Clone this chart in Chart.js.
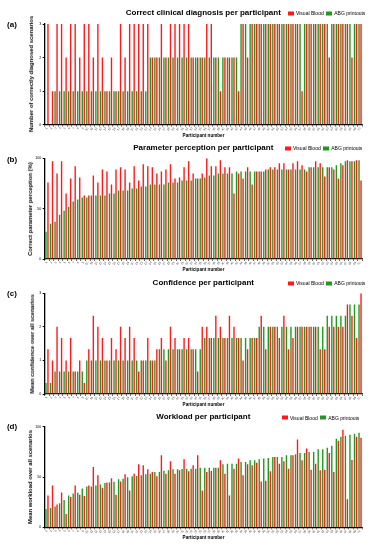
<!DOCTYPE html>
<html><head><meta charset="utf-8">
<script src="https://cdn.jsdelivr.net/npm/chart.js@4.4.1/dist/chart.umd.min.js"></script>
<style>
html,body{margin:0;padding:0;background:#fff;}
#wrap{position:relative;width:371px;height:550px;overflow:hidden;font-family:"Liberation Sans",Arial,sans-serif;color:#000;}
canvas{position:absolute;left:0;}
.t{position:absolute;white-space:nowrap;line-height:1;transform:translate(-50%,-50%);}
.title{font-weight:bold;font-size:8px;}
.plab{font-weight:bold;font-size:8px;}
.ylab{font-weight:bold;font-size:5.9px;transform:translate(-50%,-50%) rotate(-90deg);}
.leg{position:absolute;font-size:5px;white-space:nowrap;display:flex;align-items:center;line-height:1;transform:translateY(-50%);}
.box{display:inline-block;width:6px;height:4px;margin-right:2px;}
</style></head>
<body><div id="wrap"></div>
<script>
const participants = ['1','2','3','4','5','6','7','8','9','10','11','12','13','14','15','16','17','18','19','20','21','22','23','24','25','26','27','28','29','30','31','32','33','34','35','36','37','38','39','40','41','42','43','44','45','46','47','48','49','50','51','52','53','54','55','56','57','58','59','60','61','62','63','64','65','66','67','68','69','70'];

// (a) correctly diagnosed scenarios
const abgA = [0,0,1,1,1,1,1,1,1,1,1,1,1,1,1,1,1,1,1,1,1,1,1,2,2,2,2,2,2,2,2,2,2,2,2,2,2,2,2,2,2,2,2,3,3,3,3,3,3,3,3,3,3,3,3,3,3,3,3,3,3,3,3,3,3,3,3,3,3,3];
const vbA  = [3,1,3,3,2,3,3,2,3,3,2,3,2,1,2,1,3,2,3,3,3,3,3,2,2,3,2,3,3,3,3,3,2,2,2,3,3,2,1,2,2,2,1,3,2,3,3,3,3,3,3,3,3,3,3,3,1,3,3,3,3,3,2,3,3,3,3,2,3,3];

// (b) correct parameter perception (%)
const abgB = [27,35,37,44,48,52,57,59,61,61,63,63,63,63,65,65,68,68,68,70,70,72,72,74,74,74,74,76,76,76,78,78,78,80,80,81,83,83,85,85,85,85,87,87,87,87,87,87,87,89,89,89,89,89,89,89,89,89,91,91,91,91,91,91,93,95,97,97,97,98];
const vbB  = [76,97,85,97,65,80,92,81,63,63,83,76,89,87,74,89,91,89,76,92,78,94,92,91,85,87,89,94,80,81,91,97,85,80,85,100,92,92,98,91,91,65,85,80,91,74,87,87,89,91,91,95,95,89,95,97,93,87,91,97,95,82,91,89,80,93,98,97,98,78];

// (c) mean confidence
const abgC = [0.33,0.33,0.67,0.67,0.67,0.67,0.67,0.67,0.67,1,1,1,1,1,1,1,1,1,1,1,1,1,1,1,1,1.33,1.33,1.33,1.33,1.33,1.33,1.33,1.33,1.33,1.33,1.67,1.67,1.67,1.67,1.67,1.67,1.67,1.67,1.67,1.67,1.67,1.67,2,2,2,2,2,2,2,2,2,2,2,2,2,2,2,2.33,2.33,2.33,2.33,2.33,2.67,2.67,2.67];
const vbC  = [1.33,1,2,1.67,1,1.67,0.67,1,0.33,1.33,2.33,2,1.67,1,1.67,1.33,2,1.67,2,1.67,0.67,1,1.67,1,1.33,1.67,1,2,1.67,1.33,1.67,1.67,1.33,0.67,2,2,1.67,2.33,2,1.67,2.33,2,1.67,1,1.33,1.67,1.67,2.33,1.33,2,2,1.67,2.33,1.33,1.67,2,2,2,2,2,1.33,1.33,2,2,2,2,2.67,2.33,1.67,3];

// (d) mean workload
const abgD = [18.3,19.3,20.7,24,27.3,31.7,33.7,34.3,38.7,40.7,40.7,41.7,42.7,44,44.7,45.3,47.7,48.3,49.7,50.7,51,51.7,52.7,53.3,55,55,56.3,56.7,57.7,57.7,58,58.3,58.3,58.3,59.3,59.3,59.3,59.3,59.3,62.7,63.3,63.3,63.3,65,65,66.7,66.7,67.7,68.3,69,70,70,70,71.7,71.7,72.7,74,74,75,75,77.7,77.7,79,81,88,90,91,92,93,94];
const vbD  = [31.7,41.7,22.7,34.7,13.3,30.3,41.7,32.3,31.3,41.7,60,51.7,39.3,44.7,48.7,32.3,45.7,52.7,36.7,53.3,62.7,61.7,57.7,55,50.7,71.7,53.3,65.7,53.3,56.7,67.7,55.7,61.7,71.7,36.7,55,56,59.3,66.7,53.3,31.7,58.3,68.3,51.7,62.7,61.7,64.3,45.7,46.3,55.7,70,63.3,65.7,58.3,71.7,87.3,66.7,78.3,57.3,63.3,56.7,57.3,74,55,86,97,28,67,90,89];

const RED = '#ff1a1a', GREEN = '#1f9a1f';
const FAM = "'Liberation Sans', Arial, sans-serif";
Chart.defaults.font.family = FAM;

const panels = [
  {key:'a', top:0,   padTop:24,   abg:abgA, vb:vbA, max:3,   step:1,  title:'Correct clinical diagnosis per participant', titleY:13,    ylab:'Number of correctly diagnosed scenarios', ylx:32,  labY:25,    legX:288, legY:13},
  {key:'b', top:134, padTop:24.3, abg:abgB, vb:vbB, max:100, step:50, title:'Parameter perception per participant',       titleY:148.3, ylab:'Correct parameter perception (%)',        ylx:30.5,labY:160,   legX:285, legY:148.3},
  {key:'c', top:269, padTop:24.3, abg:abgC, vb:vbC, max:3,   step:1,  title:'Confidence per participant',                 titleY:283.3, ylab:'Mean confidence over all scenarios',      ylx:33,  labY:293.7, legX:288, legY:283},
  {key:'d', top:402, padTop:24.7, abg:abgD, vb:vbD, max:100, step:50, title:'Workload per participant',                   titleY:416.5, ylab:'Mean workload over all scenarios',        ylx:30.5,labY:426.7, legX:282, legY:417.5}
];
const CH = 140, AREA_H = 100.7;
const wrap = document.getElementById('wrap');

function addText(cls, text, x, y) {
  const d = document.createElement('div');
  d.className = 't ' + cls; d.textContent = text;
  d.style.left = x + 'px'; d.style.top = y + 'px';
  wrap.appendChild(d);
}

panels.forEach(p => {
  const cv = document.createElement('canvas');
  cv.width = 371; cv.height = CH; cv.style.top = p.top + 'px';
  wrap.appendChild(cv);
  new Chart(cv, {
    type: 'bar',
    data: {
      labels: participants,
      datasets: [
        {label:'ABG printouts', data:p.abg, backgroundColor:GREEN, borderWidth:0},
        {label:'Visual Blood',  data:p.vb,  backgroundColor:RED,   borderWidth:0}
      ]
    },
    options: {
      responsive:false, animation:false, devicePixelRatio:1,
      layout:{padding:{top:p.padTop, left:0, right:8.7, bottom:0}},
      plugins:{legend:{display:false}, title:{display:false}, tooltip:{enabled:false}},
      datasets:{bar:{categoryPercentage:0.88, barPercentage:0.7}},
      scales:{
        x:{
          grid:{display:true, drawOnChartArea:false, drawTicks:true, tickLength:2, color:'#000', lineWidth:0.6},
          border:{display:true, color:'#000', width:1.3},
          ticks:{font:{size:3}, color:'#333', autoSkip:false, minRotation:60, maxRotation:60, padding:0},
          title:{display:true, text:'Participant number', font:{size:4.6, weight:'bold'}, color:'#000', padding:{top:0, bottom:1.2}},
          afterFit: s => { s.height = CH - p.padTop - AREA_H; }
        },
        y:{
          min:0, max:p.max,
          ticks:{stepSize:p.step, font:{size:3.6}, color:'#000', padding:1.5},
          grid:{display:true, drawOnChartArea:false, drawTicks:true, tickLength:2, color:'#000', lineWidth:1},
          border:{display:true, color:'#000', width:1.3},
          afterFit: s => { s.width = 44.7; }
        }
      }
    }
  });
  addText('title', p.title, 203.3, p.titleY);
  addText('plab', '(' + p.key + ')', 12, p.labY);
  addText('ylab', p.ylab, p.ylx, p.top + p.padTop + AREA_H / 2);
  const lg = document.createElement('div');
  lg.className = 'leg';
  lg.style.left = p.legX + 'px'; lg.style.top = p.legY + 'px';
  lg.innerHTML = '<span class="box" style="background:' + RED + '"></span><span>Visual Blood</span>' +
                 '<span class="box" style="background:' + GREEN + ';margin-left:2.5px"></span><span>ABG printouts</span>';
  wrap.appendChild(lg);
});
</script>
</body></html>
